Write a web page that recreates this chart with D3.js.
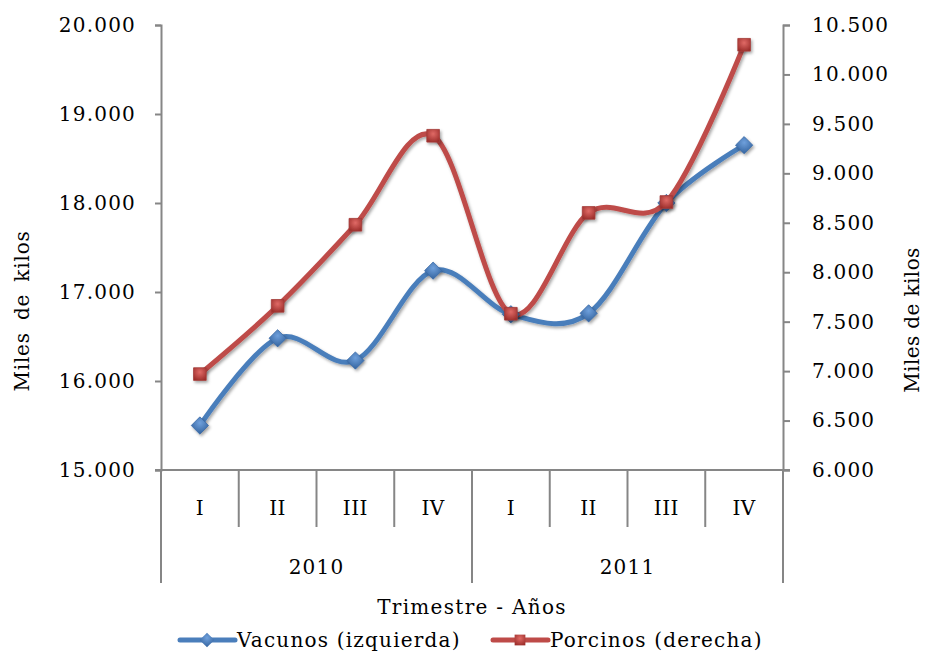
<!DOCTYPE html>
<html>
<head>
<meta charset="utf-8">
<script src="https://cdn.jsdelivr.net/npm/d3@7"></script>
<style>
  body { margin: 0; background: #fff; }
  text { font-family: "DejaVu Serif", serif; fill: #000; }
</style>
</head>
<body>
<svg id="chart"></svg>
<script>
// data
const quarters = ["I", "II", "III", "IV", "I", "II", "III", "IV"];
const years = ["2010", "2011"];
const vacunos = [15500, 16480, 16230, 17240, 16750, 16760, 18000, 18650];
const porcinos = [6970, 7660, 8480, 9380, 7580, 8600, 8710, 10300];
const leftTicks = [15000, 16000, 17000, 18000, 19000, 20000];
const rightTicks = [6000, 6500, 7000, 7500, 8000, 8500, 9000, 9500, 10000, 10500];

const width = 925, height = 656;
const marginLeft = 161, marginRight = 142, marginTop = 25, marginBottom = 186;
const blue = "#4A7EBB", red = "#BE4B48", axisCol = "#868686";

const loc = d3.formatLocale({decimal: ",", thousands: ".", grouping: [3], currency: ["", ""]});
const fmt = loc.format(",.0f");

const svg = d3.select("#chart")
  .attr("width", width)
  .attr("height", height)
  .attr("viewBox", [0, 0, width, height]);

// shadow + marker gradients
const defs = svg.append("defs");
const sh = defs.append("filter").attr("id", "shadow").attr("x", "-50%").attr("y", "-50%").attr("width", "200%").attr("height", "200%");
sh.append("feDropShadow").attr("dx", 1.5).attr("dy", 2).attr("stdDeviation", 1.5).attr("flood-color", "#000").attr("flood-opacity", 0.35);
function grad(id, light, dark) {
  const g = defs.append("radialGradient").attr("id", id).attr("cx", "50%").attr("cy", "35%").attr("r", "70%");
  g.append("stop").attr("offset", "0%").attr("stop-color", light);
  g.append("stop").attr("offset", "100%").attr("stop-color", dark);
}
grad("gBlue", "#6FA0DC", "#2F5E99");
grad("gRed", "#E06A66", "#9B2D2A");

const x = d3.scaleBand()
  .domain(d3.range(quarters.length))
  .range([marginLeft, width - marginRight]);

const yLeft = d3.scaleLinear()
  .domain([15000, 20000])
  .range([height - marginBottom, marginTop]);

const yRight = d3.scaleLinear()
  .domain([6000, 10500])
  .range([height - marginBottom, marginTop]);

const axisBottomY = height - marginBottom;
const fs = "20px";

// left axis
const gl = svg.append("g")
  .attr("transform", `translate(${marginLeft},0)`)
  .call(d3.axisLeft(yLeft).tickValues(leftTicks).tickFormat(fmt).tickSize(6).tickPadding(19));
gl.selectAll("text").style("font-size", fs).style("letter-spacing", "1.2px").attr("font-family", null);

// right axis
const gr = svg.append("g")
  .attr("transform", `translate(${width - marginRight},0)`)
  .call(d3.axisRight(yRight).tickValues(rightTicks).tickFormat(fmt).tickSize(7).tickPadding(22));
gr.selectAll("text").style("font-size", fs).style("letter-spacing", "1.2px").attr("font-family", null);

[gl, gr].forEach(g => {
  g.select(".domain").attr("stroke", axisCol).attr("stroke-width", 2);
  g.selectAll(".tick line").attr("stroke", axisCol).attr("stroke-width", 2);
});

// category axis: horizontal line + separators
svg.append("line")
  .attr("x1", marginLeft - 6).attr("x2", width - marginRight + 7)
  .attr("y1", axisBottomY).attr("y2", axisBottomY)
  .attr("stroke", axisCol).attr("stroke-width", 2);

const seps = svg.append("g");
d3.range(quarters.length + 1).forEach(i => {
  const xp = i < quarters.length ? x(i) : x(quarters.length - 1) + x.bandwidth();
  const isYear = i % 4 === 0;
  seps.append("line")
    .attr("x1", xp).attr("x2", xp)
    .attr("y1", axisBottomY).attr("y2", isYear ? axisBottomY + 113 : axisBottomY + 57)
    .attr("stroke", axisCol).attr("stroke-width", 2);
});

svg.append("g").selectAll("text")
  .data(quarters)
  .join("text")
  .attr("x", (d, i) => x(i) + x.bandwidth() / 2)
  .attr("y", axisBottomY + 45)
  .attr("text-anchor", "middle")
  .style("font-size", fs)
  .style("letter-spacing", "0.5px")
  .text(d => d);

svg.append("g").selectAll("text")
  .data(years)
  .join("text")
  .attr("x", (d, i) => x(i * 4) + x.bandwidth() * 2)
  .attr("y", axisBottomY + 104)
  .attr("text-anchor", "middle")
  .style("font-size", fs)
  .style("letter-spacing", "1.2px")
  .text(d => d);

// titles
svg.append("text")
  .attr("x", (marginLeft + width - marginRight) / 2)
  .attr("y", axisBottomY + 144)
  .attr("text-anchor", "middle")
  .style("font-size", fs)
  .style("letter-spacing", "1.3px")
  .text("Trimestre - Años");

svg.append("text")
  .attr("transform", `translate(29,311) rotate(-90)`)
  .attr("text-anchor", "middle")
  .style("font-size", fs)
  .style("letter-spacing", "0.8px")
  .style("word-spacing", "5px")
  .text("Miles de kilos");

svg.append("text")
  .attr("transform", `translate(919,320) rotate(-90)`)
  .attr("text-anchor", "middle")
  .style("font-size", fs)
  .style("letter-spacing", "0.4px")
  .text("Miles de kilos");

// lines
const cx = i => x(i) + x.bandwidth() / 2;
const lineL = d3.line().x((d, i) => cx(i)).y(d => yLeft(d)).curve(d3.curveCatmullRom.alpha(0));
const lineR = d3.line().x((d, i) => cx(i)).y(d => yRight(d)).curve(d3.curveCatmullRom.alpha(0));

svg.append("path").datum(vacunos)
  .attr("d", lineL).attr("fill", "none").attr("stroke", blue).attr("stroke-width", 5)
  .attr("stroke-linecap", "round").attr("filter", "url(#shadow)");
svg.append("path").datum(porcinos)
  .attr("d", lineR).attr("fill", "none").attr("stroke", red).attr("stroke-width", 5)
  .attr("stroke-linecap", "round").attr("filter", "url(#shadow)");

const diamond = d3.symbol().type(d3.symbolDiamond2).size(190);
const square = d3.symbol().type(d3.symbolSquare).size(160);

svg.append("g").selectAll("path")
  .data(vacunos)
  .join("path")
  .attr("transform", (d, i) => `translate(${cx(i)},${yLeft(d)})`)
  .attr("d", diamond)
  .attr("fill", "url(#gBlue)")
  .attr("stroke", "#3A6BA8").attr("stroke-width", 0.8)
  .attr("filter", "url(#shadow)");

svg.append("g").selectAll("path")
  .data(porcinos)
  .join("path")
  .attr("transform", (d, i) => `translate(${cx(i)},${yRight(d)})`)
  .attr("d", square)
  .attr("fill", "url(#gRed)")
  .attr("stroke", "#A33B38").attr("stroke-width", 0.8)
  .attr("filter", "url(#shadow)");

// legend
const legend = [
  {name: "Vacunos (izquierda)", color: blue, sym: diamond, fill: "url(#gBlue)", x0: 180},
  {name: "Porcinos (derecha)", color: red, sym: square, fill: "url(#gRed)", x0: 493}
];
const lg = svg.append("g").selectAll("g").data(legend).join("g")
  .attr("transform", d => `translate(${d.x0},640)`);
lg.append("line").attr("x1", 0).attr("x2", 55).attr("stroke", d => d.color).attr("stroke-width", 5).attr("stroke-linecap", "round");
lg.append("path").attr("transform", "translate(27,0) scale(0.85)").attr("d", d => d.sym()).attr("fill", d => d.fill);
lg.append("text").attr("x", 57).attr("y", 7).style("font-size", fs).style("letter-spacing", "1.2px").text(d => d.name);
</script>
</body>
</html>
